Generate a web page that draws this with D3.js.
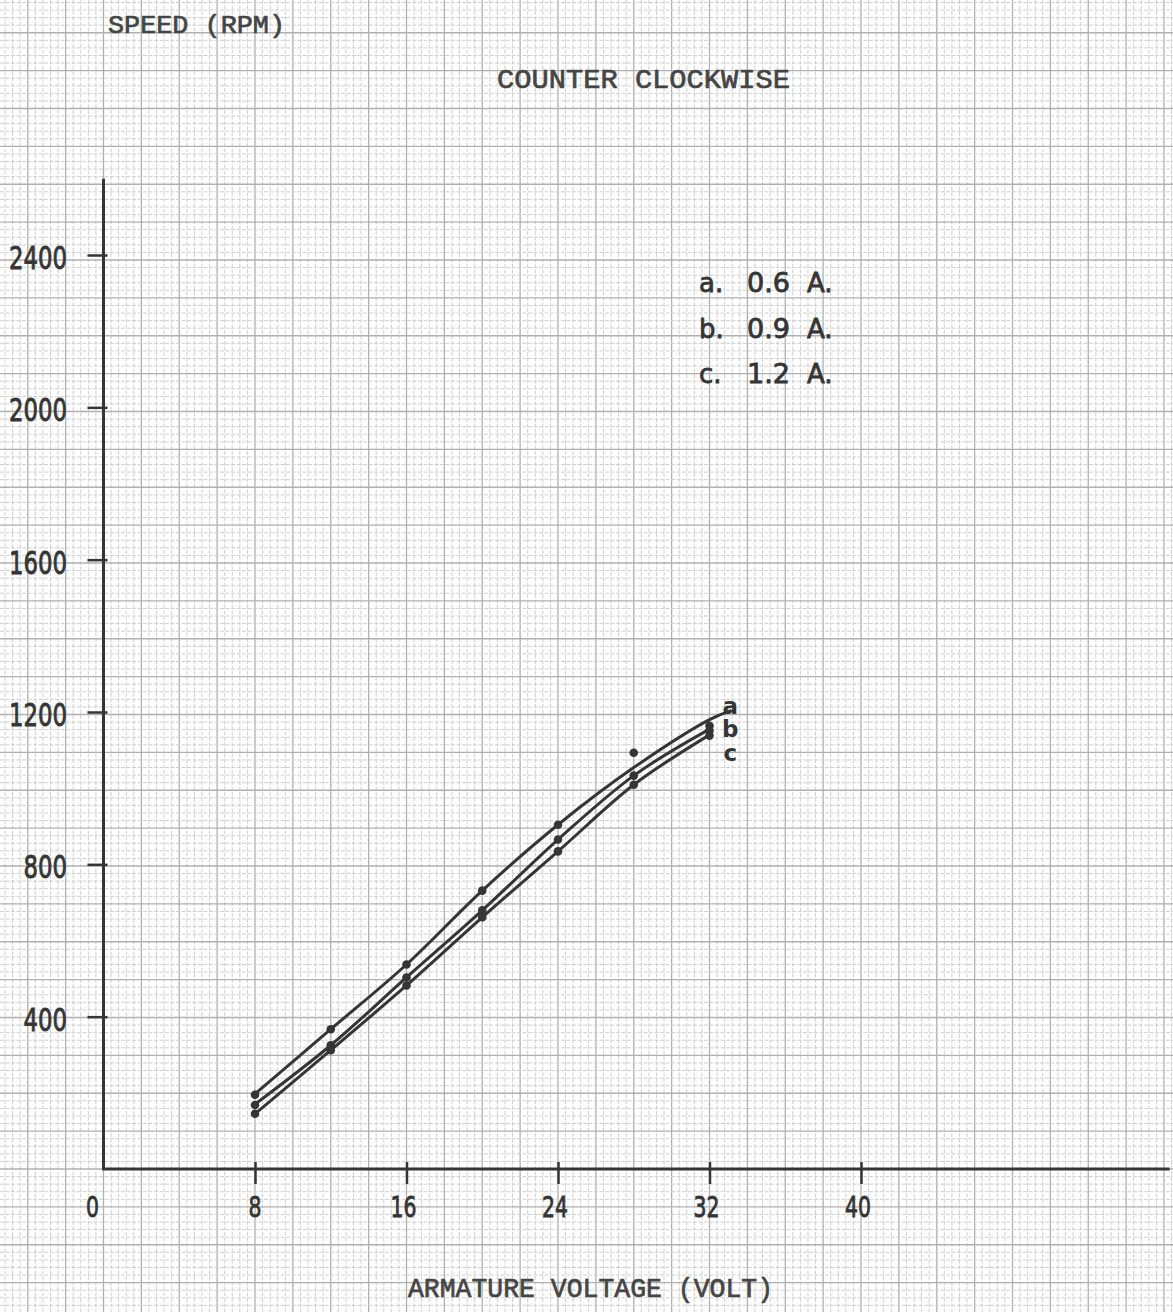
<!DOCTYPE html>
<html>
<head>
<meta charset="utf-8">
<script src="https://cdn.jsdelivr.net/npm/d3@7"></script>
<style>
html,body{margin:0;padding:0;background:#fff;}
svg{display:block;}
</style>
</head>
<body>
<svg id="chart" width="1173" height="1312"></svg>
<script>
// ---- data ----
const voltage = [8, 12, 16, 20, 24, 28, 32];
const speedA = [195, 367, 537, 731, 904, 1093, 1164];
const speedB = [168, 325, 503, 679, 865, 1033, 1151];
const speedC = [145, 312, 482, 661, 834, 1009, 1138];

// hand-drawn fitted curves
const fitVoltA = [8, 12, 16, 20, 24, 28, 32, 33.1];
const fitA = [197, 367, 537, 731, 904, 1054, 1180, 1203];
const fitVoltBC = [8, 12, 16, 20, 24, 28, 32];
const fitB = [170, 325, 503, 679, 865, 1033, 1155];
const fitC = [145, 312, 482, 661, 834, 1009, 1140];

const seriesKeys = ["a", "b", "c"];
const currents = ["0.6", "0.9", "1.2"];

const xTicks = [0, 8, 16, 24, 32, 40];
const yTicks = [400, 800, 1200, 1600, 2000, 2400];

const title = "COUNTER CLOCKWISE";
const yTitle = "SPEED (RPM)";
const xTitle = "ARMATURE VOLTAGE (VOLT)";

// ---- scales ----
const W = 1173, H = 1312;
const x = d3.scaleLinear().domain([0, 40]).range([103.5, 861]);
const y = d3.scaleLinear().domain([0, 2400]).range([1169, 255]);

const svg = d3.select("#chart");
const ink = "#353535";
const hand = "'DejaVu Sans', 'Open Sans', sans-serif";
const typew = "'Liberation Mono', 'DejaVu Sans Mono', monospace";

// ---- graph paper ----
const step = (x(8) - x(0)) / 20; // fine grid pitch
const grid = svg.append("g");
const x0 = x(0), y0 = y(0);
const kx0 = Math.ceil(-x0 / step), kx1 = Math.floor((W - x0) / step);
for (let k = kx0; k <= kx1; k++) {
  const px = x0 + k * step;
  const major = k % 5 === 0;
  grid.append("line").attr("x1", px).attr("x2", px).attr("y1", 0).attr("y2", H)
    .attr("stroke", major ? "#b0b0b0" : "#cfcfcf")
    .attr("stroke-width", major ? 1.3 : 1)
    .attr("stroke-dasharray", major ? null : "4,1.5");
}
const ky0 = Math.ceil((y0 - H) / step), ky1 = Math.floor(y0 / step);
for (let k = ky0; k <= ky1; k++) {
  const py = y0 - k * step;
  const major = k % 5 === 0;
  grid.append("line").attr("x1", 0).attr("x2", W).attr("y1", py).attr("y2", py)
    .attr("stroke", major ? "#b0b0b0" : "#cfcfcf")
    .attr("stroke-width", major ? 1.3 : 1)
    .attr("stroke-dasharray", major ? null : "4,1.5");
}

// ---- axes ----
const axisG = svg.append("g");
axisG.append("line").attr("x1", x(0)).attr("x2", x(0)).attr("y1", y(0) + 1).attr("y2", y(2600))
  .attr("stroke", ink).attr("stroke-width", 3);
axisG.append("line").attr("x1", x(0) - 1).attr("x2", x(56.3)).attr("y1", y(0)).attr("y2", y(0))
  .attr("stroke", ink).attr("stroke-width", 3);

const xAxis = d3.axisBottom(x).tickValues(xTicks.filter(d => d > 0)).tickSize(15).tickFormat("");
const gx = svg.append("g").attr("transform", `translate(0,${y(0)})`).call(xAxis);
gx.select(".domain").remove();
gx.selectAll(".tick line").attr("y1", -7).attr("stroke", ink).attr("stroke-width", 2.5);

const yAxis = d3.axisLeft(y).tickValues(yTicks).tickSize(16).tickFormat("");
const gy = svg.append("g").attr("transform", `translate(${x(0)},0)`).call(yAxis);
gy.select(".domain").remove();
gy.selectAll(".tick line").attr("x1", 4).attr("stroke", ink).attr("stroke-width", 2.5);

// tick labels (handwritten)
svg.append("g").selectAll("text").data(xTicks).join("text")
  .attr("x", d => x(d) - (d === 0 ? 11 : d === 8 ? 0 : 3))
  .attr("y", y(0) + 48)
  .attr("text-anchor", "middle")
  .attr("font-family", hand).attr("font-size", 29).attr("fill", ink)
  .attr("stroke", ink).attr("stroke-width", 0.9)
  .attr("textLength", d => String(d).length * 13)
  .attr("lengthAdjust", "spacingAndGlyphs")
  .text(d => d);

svg.append("g").selectAll("text").data(yTicks).join("text")
  .attr("x", 67)
  .attr("y", d => y(d) + 14)
  .attr("text-anchor", "end")
  .attr("font-family", hand).attr("font-size", 32).attr("fill", ink)
  .attr("stroke", ink).attr("stroke-width", 0.9)
  .attr("textLength", d => String(d).length * 14.5)
  .attr("lengthAdjust", "spacingAndGlyphs")
  .text(d => d);

// ---- typewriter titles ----
const tw = "#454545";
svg.append("text").attr("x", 108).attr("y", 33)
  .attr("font-family", typew).attr("font-size", 26).attr("fill", tw)
  .attr("stroke", tw).attr("stroke-width", 0.7)
  .attr("textLength", 177).attr("lengthAdjust", "spacingAndGlyphs").text(yTitle);
svg.append("text").attr("x", 497).attr("y", 88)
  .attr("font-family", typew).attr("font-size", 28).attr("fill", tw)
  .attr("stroke", tw).attr("stroke-width", 0.7)
  .attr("textLength", 293).attr("lengthAdjust", "spacingAndGlyphs").text(title);
svg.append("text").attr("x", 408).attr("y", 1297)
  .attr("font-family", typew).attr("font-size", 28).attr("fill", tw)
  .attr("stroke", tw).attr("stroke-width", 0.7)
  .attr("textLength", 365).attr("lengthAdjust", "spacingAndGlyphs").text(xTitle);

// ---- legend ----
const leg = svg.append("g")
  .attr("font-family", hand).attr("font-size", 26).attr("fill", ink)
  .attr("stroke", ink).attr("stroke-width", 0.8);
seriesKeys.forEach((k, i) => {
  const ly = 292 + i * 45.5;
  leg.append("text").attr("x", 699).attr("y", ly).text(k + ".");
  leg.append("text").attr("x", 747).attr("y", ly)
    .attr("textLength", 43).attr("lengthAdjust", "spacingAndGlyphs")
    .text(currents[i]);
  leg.append("text").attr("x", 807).attr("y", ly).text("A.");
});

// ---- curves ----
const line = d3.line().x(d => x(d[0])).y(d => y(d[1])).curve(d3.curveCatmullRom.alpha(0.5));
const fits = [
  d3.zip(fitVoltA, fitA),
  d3.zip(fitVoltBC, fitB),
  d3.zip(fitVoltBC, fitC)
];
svg.append("g").selectAll("path").data(fits).join("path")
  .attr("d", line)
  .attr("fill", "none").attr("stroke", ink).attr("stroke-width", 3)
  .attr("stroke-linecap", "round");

// ---- points ----
const measured = [speedA, speedB, speedC];
const pts = svg.append("g");
measured.forEach(arr => {
  pts.selectAll(null).data(d3.zip(voltage, arr)).join("circle")
    .attr("cx", d => x(d[0])).attr("cy", d => y(d[1])).attr("r", 4.3)
    .attr("fill", ink);
});

// ---- curve end labels ----
const endA = fits[0][fits[0].length - 1];
svg.append("g").selectAll("text").data(seriesKeys).join("text")
  .attr("x", x(endA[0]))
  .attr("y", (d, i) => y(endA[1]) + 3 + i * 23.5)
  .attr("text-anchor", "middle")
  .attr("font-family", hand).attr("font-size", 23).attr("font-weight", "bold").attr("fill", ink)
  .text(d => d);
</script>
</body>
</html>
